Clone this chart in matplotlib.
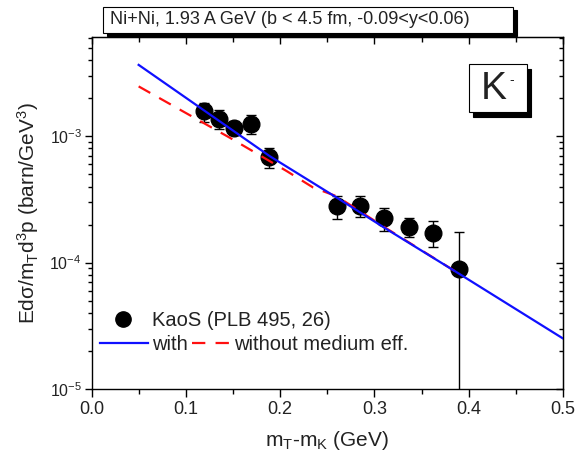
import matplotlib
matplotlib.use('Agg')
import math
import matplotlib.pyplot as plt
from matplotlib.lines import Line2D
from matplotlib.patches import Rectangle
from matplotlib.ticker import FixedLocator, MultipleLocator

plt.rcParams['font.family'] = ['Liberation Sans', 'DejaVu Sans']
plt.rcParams['mathtext.fontset'] = 'custom'
plt.rcParams['mathtext.rm'] = 'Liberation Sans'
plt.rcParams['mathtext.it'] = 'Liberation Sans'
plt.rcParams['mathtext.sf'] = 'Liberation Sans'

# KaoS data points (m_T - m_K in GeV, invariant cross section in barn/GeV^3)
mt = [0.119, 0.135, 0.1515, 0.1695, 0.188, 0.260, 0.285, 0.310, 0.3366, 0.3626, 0.390]
dsig = [1.574e-3, 1.371e-3, 1.165e-3, 1.259e-3, 6.84e-4, 2.81e-4, 2.81e-4, 2.24e-4, 1.92e-4, 1.73e-4, 8.9e-5]
dsig_err = [2.7e-4, 2.3e-4, 1.5e-4, 2.2e-4, 1.2e-4, 5.8e-5, 5.3e-5, 4.7e-5, 3.3e-5, 4.0e-5, 8.6e-5]

# calculation with medium effects
with_x = [0.05, 0.189, 0.260, 0.313, 0.390, 0.5]
with_y = [3.67e-3, 6.96e-4, 3.27e-4, 1.84e-4, 8.15e-5, 2.51e-5]

# calculation without medium effects
without_x = [0.05, 0.094, 0.147, 0.207, 0.235, 0.26, 0.313, 0.39]
without_y = [2.48e-3, 1.62e-3, 9.7e-4, 5.3e-4, 3.93e-4, 3.35e-4, 1.86e-4, 8.15e-5]

W, H = 577, 457
TXT = '#222222'


def fx(px):
    return px / W


def fy(py):
    return 1 - py / H


fig = plt.figure(figsize=(W / 100, H / 100), dpi=100)
ax = fig.add_axes([fx(91.5), fy(389), fx(563) - fx(91.5), fy(37) - fy(389)])

# data + curves
ax.errorbar(mt, dsig, yerr=dsig_err, fmt='o', color='black', ms=12, elinewidth=1.0,
            capsize=3.5, capthick=1.0, zorder=2)
ax.plot(without_x, without_y, color='#ff1010', lw=1.6, dashes=(6, 4.6), zorder=3)
ax.plot(with_x, with_y, color='#1010ff', lw=1.6, zorder=4)

ax.set_yscale('log')
ax.set_xlim(0, 0.5)
ax.set_ylim(1e-5, 6.1e-3)

ax.xaxis.set_major_locator(MultipleLocator(0.1))
ax.xaxis.set_minor_locator(MultipleLocator(0.05))
ax.xaxis.set_major_formatter(plt.FuncFormatter(lambda v, p: f'{v:.1f}'))
ax.yaxis.set_major_locator(FixedLocator([1e-5, 1e-4, 1e-3]))
ax.yaxis.set_major_formatter(plt.FuncFormatter(
    lambda v, p: r'$\mathregular{10^{%d}}$' % round(math.log10(v))))

ax.tick_params(axis='x', which='major', direction='out', length=5.5, width=1, labelsize=13,
               labelcolor=TXT, pad=3, top=False)
ax.tick_params(axis='x', which='minor', direction='out', length=3.5, width=1, top=False)
ax.tick_params(axis='y', which='major', direction='out', length=5, width=1, labelsize=11.5,
               labelcolor=TXT, pad=2, right=False)
ax.tick_params(axis='y', which='minor', direction='out', length=3, width=1, right=False)
for s in ax.spines.values():
    s.set_linewidth(1.0)

# inward ticks on top and right
top = ax.secondary_xaxis('top')
top.xaxis.set_major_locator(MultipleLocator(0.1))
top.xaxis.set_minor_locator(MultipleLocator(0.05))
top.tick_params(which='major', direction='in', length=5, width=1, labeltop=False)
top.tick_params(which='minor', direction='in', length=3.5, width=1)
right = ax.secondary_yaxis('right')
right.yaxis.set_major_locator(FixedLocator([1e-5, 1e-4, 1e-3]))
right.tick_params(which='major', direction='in', length=5, width=1, labelright=False)
right.tick_params(which='minor', direction='in', length=3, width=1)

ax.set_xlabel(r'm$_\mathregular{T}$-m$_\mathregular{K}$ (GeV)', fontsize=15, color=TXT)
ax.set_ylabel(r'Ed$\mathregular{\sigma}$/m$_\mathregular{T}$d$^\mathregular{3}$p (barn/GeV$^\mathregular{3}$)',
              fontsize=15, color=TXT)
ax.xaxis.set_label_coords(0.5, -0.115)
ax.yaxis.set_label_coords(-0.108, 0.5)

# legends
h_data = Line2D([], [], marker='o', ls='none', color='black', ms=11)
h_with = Line2D([], [], color='#1010ff', lw=1.6)
h_without = Line2D([], [], color='#ff1010', lw=1.6, dashes=(6, 4.6))
common = dict(loc='center left', frameon=False, borderpad=0, borderaxespad=0,
              bbox_transform=fig.transFigure, fontsize=14.5, labelcolor=TXT)
leg1 = ax.legend([h_data], ['KaoS (PLB 495, 26)'], bbox_to_anchor=(fx(107), fy(321)),
                 handlelength=1.6, handletextpad=0.62, **common)
ax.add_artist(leg1)
leg2 = ax.legend([h_with], ['with'], bbox_to_anchor=(fx(100), fy(345)),
                 handlelength=2.4, handletextpad=0.2, **common)
ax.add_artist(leg2)
ax.legend([h_without], ['without medium eff.'], bbox_to_anchor=(fx(191.7), fy(345)),
          handlelength=1.87, handletextpad=0.25, **common)

# title box with shadow
fig.add_artist(Rectangle((fx(107), fy(36)), fx(410), fy(0) - fy(26), transform=fig.transFigure,
                         facecolor='black', edgecolor='black', lw=0.8))
fig.add_artist(Rectangle((fx(103), fy(33)), fx(410), fy(0) - fy(26), transform=fig.transFigure,
                         facecolor='white', edgecolor='black', lw=0.8))
fig.text(fx(110), fy(20), 'Ni+Ni, 1.93 A GeV (b < 4.5 fm, -0.09<y<0.06)', fontsize=13,
         color=TXT, ha='left', va='center')

# K- box with shadow
fig.add_artist(Rectangle((fx(473), fy(117)), fx(58), fy(0) - fy(48), transform=fig.transFigure,
                         facecolor='black', edgecolor='black', lw=0.8))
fig.add_artist(Rectangle((fx(469), fy(112)), fx(58), fy(0) - fy(48), transform=fig.transFigure,
                         facecolor='white', edgecolor='black', lw=0.8))
fig.text(fx(494), fy(89), 'K', fontsize=28, color=TXT, ha='center', va='center')
fig.text(fx(512), fy(80), '-', fontsize=10, color=TXT, ha='center', va='center')

fig.savefig('out.png', dpi=100)
